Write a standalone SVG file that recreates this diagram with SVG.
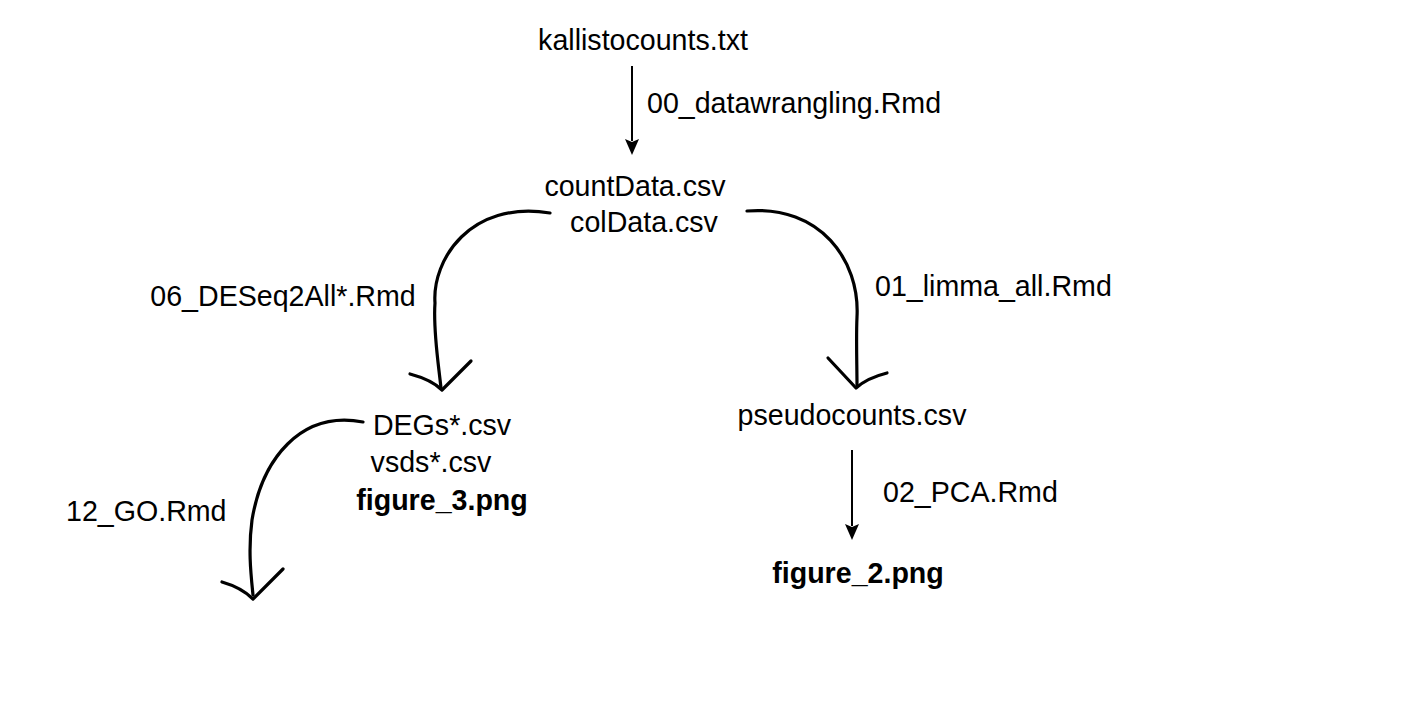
<svg xmlns="http://www.w3.org/2000/svg" width="1418" height="710" viewBox="0 0 1418 710">
<style>
text{font-family:"Liberation Sans",Arial,sans-serif;font-size:28.6px;fill:#000}
.b{font-weight:bold}
.m{text-anchor:middle}
.c{fill:none;stroke:#000;stroke-width:3.2;stroke-linecap:round;stroke-linejoin:round}
.s{fill:none;stroke:#000;stroke-width:2}
</style>
<rect width="1418" height="710" fill="#fff"/>
<g id="n-kallisto"><text class="m" x="643" y="50">kallistocounts.txt</text></g>
<g id="n-count"><text class="m" x="635" y="196">countData.csv</text><text class="m" x="644" y="232">colData.csv</text></g>
<g id="n-degs"><text class="m" x="442" y="435">DEGs*.csv</text><text class="m" x="431" y="472">vsds*.csv</text><text class="m b" x="442" y="510">figure_3.png</text></g>
<g id="n-pseudo"><text class="m" x="852" y="425">pseudocounts.csv</text></g>
<g id="n-fig2"><text class="m b" x="858" y="583">figure_2.png</text></g>
<g id="connectors">
<path class="s" d="M632,66 L632,141" />
<path d="M625,139 L632,142 L639,139 L632,155 Z"/>
<path class="s" d="M852,450 L852,526" />
<path d="M845,524 L852,527 L859,524 L852,540 Z"/>
<path class="c" d="M550,213 C470,200 432,260 435,303 C433,330 438,360 441,388"/>
<path class="c" d="M410,374 C425,378 435,383 442,390 L471,361"/>
<path class="c" d="M747,211 C820,205 860,260 857,317 C856,340 857,365 857,385"/>
<path class="c" d="M828,358 L856,388 C865,380 875,376 887,373"/>
<path class="c" d="M363,422 C300,410 262,460 252,520 C248,550 251,575 253,595"/>
<path class="c" d="M222,582 C236,586 246,592 253,599 L283,569"/>
<text x="647" y="113">00_datawrangling.Rmd</text>
<text class="m" x="283" y="306">06_DESeq2All*.Rmd</text>
<text x="875" y="296">01_limma_all.Rmd</text>
<text x="66" y="521">12_GO.Rmd</text>
<text x="883" y="502">02_PCA.Rmd</text>
</g>
</svg>
